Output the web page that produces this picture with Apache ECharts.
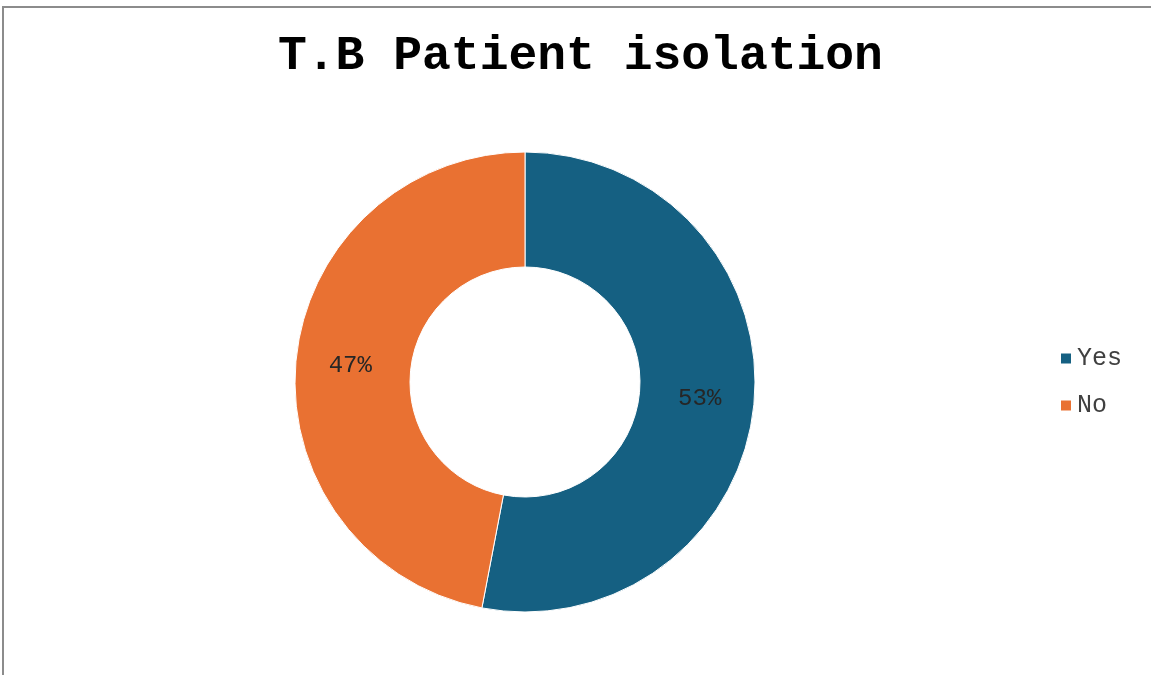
<!DOCTYPE html>
<html>
<head>
<meta charset="utf-8">
<script src="https://cdn.jsdelivr.net/npm/echarts@6/dist/echarts.min.js"></script>
<style>
    body { margin: 0; background: #fff; }
    #frame {
        position: absolute; left: 2px; top: 6px;
        width: 1200px; height: 700px;
        border-left: 2px solid #8c8c8c; border-top: 2px solid #8c8c8c;
    }
    #chartPie { position: absolute; left: 0; top: 0; width: 1151px; height: 675px; }
</style>
</head>
<body>
<div id="frame"></div>
<div id="chartPie"></div>
<script>
    var categories = ['Yes', 'No'];
    var shares = [53, 47];
    var colors = ['#156082', '#E97132'];

    var chartPie = echarts.init(document.getElementById('chartPie'));
    chartPie.setOption({
        animation: false,
        title: {
            text: 'T.B Patient isolation',
            left: 273,
            top: 28,
            textStyle: {
                fontFamily: 'Liberation Mono',
                fontWeight: 'bold',
                fontSize: 48,
                color: '#000'
            }
        },
        color: colors,
        legend: {
            orient: 'vertical',
            right: 24,
            top: 341,
            itemWidth: 12,
            itemHeight: 12,
            itemGap: 22,
            icon: 'rect',
            textStyle: {
                fontFamily: 'Liberation Mono',
                fontSize: 25,
                color: '#404040'
            },
            data: categories
        },
        series: [
            {
                name: 'T.B Patient isolation',
                type: 'pie',
                radius: [115, 230],
                center: [525, 382],
                startAngle: 90,
                clockwise: true,
                label: {
                    position: 'inside',
                    formatter: '{c}%',
                    fontFamily: 'Liberation Mono',
                    fontSize: 24,
                    color: '#262626'
                },
                labelLine: { show: false },
                itemStyle: { borderColor: '#fff', borderWidth: 1 },
                data: categories.map(function (c, i) {
                    return { name: c, value: shares[i] };
                })
            }
        ]
    });
</script>
</body>
</html>
